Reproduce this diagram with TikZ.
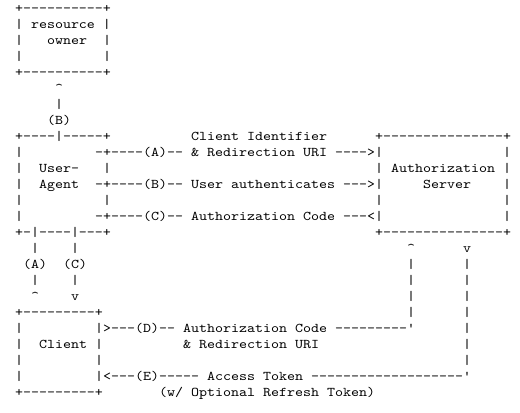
\documentclass[tikz,border=0pt]{standalone}
\usepackage{fontspec}
\setmonofont{lmmono10-regular.otf}[FakeStretch=1.142857]
\tikzset{
  asc/.style={anchor=base west, inner sep=0pt, outer sep=0pt,
    font=\ttfamily\fontsize{10pt}{12pt}\selectfont, text=black}
}
% \A{name}{column}{row}{text}
\newcommand\A[4]{\node[asc] (#1) at ({(6*#2-0.75)*1pt},{-(9.2+12*#3)*1pt}) {#4};}
\begin{document}
\begin{tikzpicture}
\useasboundingbox[fill=white] (0,0) rectangle (390pt,-309pt);
% resource owner box
\A{ro0}{2}{0}{+----------+}
\A{ro1}{2}{1}{| resource |}
\A{ro2l}{2}{2}{|}
\A{ro2}{6}{2}{owner}
\A{ro2r}{13}{2}{|}
\A{ro3l}{2}{3}{|}
\A{ro3r}{13}{3}{|}
\A{ro4}{2}{4}{+----------+}
% (B) link up
\A{b5}{7}{5}{\textasciicircum}
\A{b6}{7}{6}{|}
\A{b7}{6}{7}{(B)}
% user agent + authorization server
\A{ua8}{2}{8}{+----|-----+}
\A{ci8}{24}{8}{Client Identifier}
\A{as8}{47}{8}{+---------------+}
\A{ua9l}{2}{9}{|}
\A{fa9}{12}{9}{-+----(A)-- \& Redirection URI ---->|}
\A{as9r}{63}{9}{|}
\A{ua10l}{2}{10}{|}
\A{ua10}{5}{10}{User-}
\A{ua10r}{13}{10}{|}
\A{as10}{47}{10}{| Authorization |}
\A{ua11l}{2}{11}{|}
\A{ua11}{5}{11}{Agent}
\A{fb11}{12}{11}{-+----(B)-- User authenticates --->|}
\A{as11}{53}{11}{Server}
\A{as11r}{63}{11}{|}
\A{ua12l}{2}{12}{|}
\A{ua12r}{13}{12}{|}
\A{as12l}{47}{12}{|}
\A{as12r}{63}{12}{|}
\A{ua13l}{2}{13}{|}
\A{fc13}{12}{13}{-+----(C)-- Authorization Code ---<|}
\A{as13r}{63}{13}{|}
\A{ua14}{2}{14}{+-|----|---+}
\A{as14}{47}{14}{+---------------+}
% vertical links
\A{a15}{4}{15}{|}
\A{c15}{9}{15}{|}
\A{d15}{51}{15}{\textasciicircum}
\A{e15}{58}{15}{v}
\A{a16}{3}{16}{(A)}
\A{c16}{8}{16}{(C)}
\A{d16}{51}{16}{|}
\A{e16}{58}{16}{|}
\A{a17}{4}{17}{|}
\A{c17}{9}{17}{|}
\A{d17}{51}{17}{|}
\A{e17}{58}{17}{|}
\A{a18}{4}{18}{\textasciicircum}
\A{c18}{9}{18}{v}
\A{d18}{51}{18}{|}
\A{e18}{58}{18}{|}
% client box
\A{cl19}{2}{19}{+---------+}
\A{d19}{51}{19}{|}
\A{e19}{58}{19}{|}
\A{cl20l}{2}{20}{|}
\A{fd20}{12}{20}{|>---(D)-- Authorization Code ---------'}
\A{e20}{58}{20}{|}
\A{cl21l}{2}{21}{|}
\A{cl21}{5}{21}{Client |}
\A{rd21}{23}{21}{\& Redirection URI}
\A{e21}{58}{21}{|}
\A{cl22l}{2}{22}{|}
\A{cl22r}{12}{22}{|}
\A{e22}{58}{22}{|}
\A{cl23l}{2}{23}{|}
\A{fe23}{12}{23}{|<---(E)----- Access Token -------------------'}
\A{cl24}{2}{24}{+---------+}
\A{rt24}{20}{24}{(w/ Optional Refresh Token)}
\end{tikzpicture}
\end{document}
